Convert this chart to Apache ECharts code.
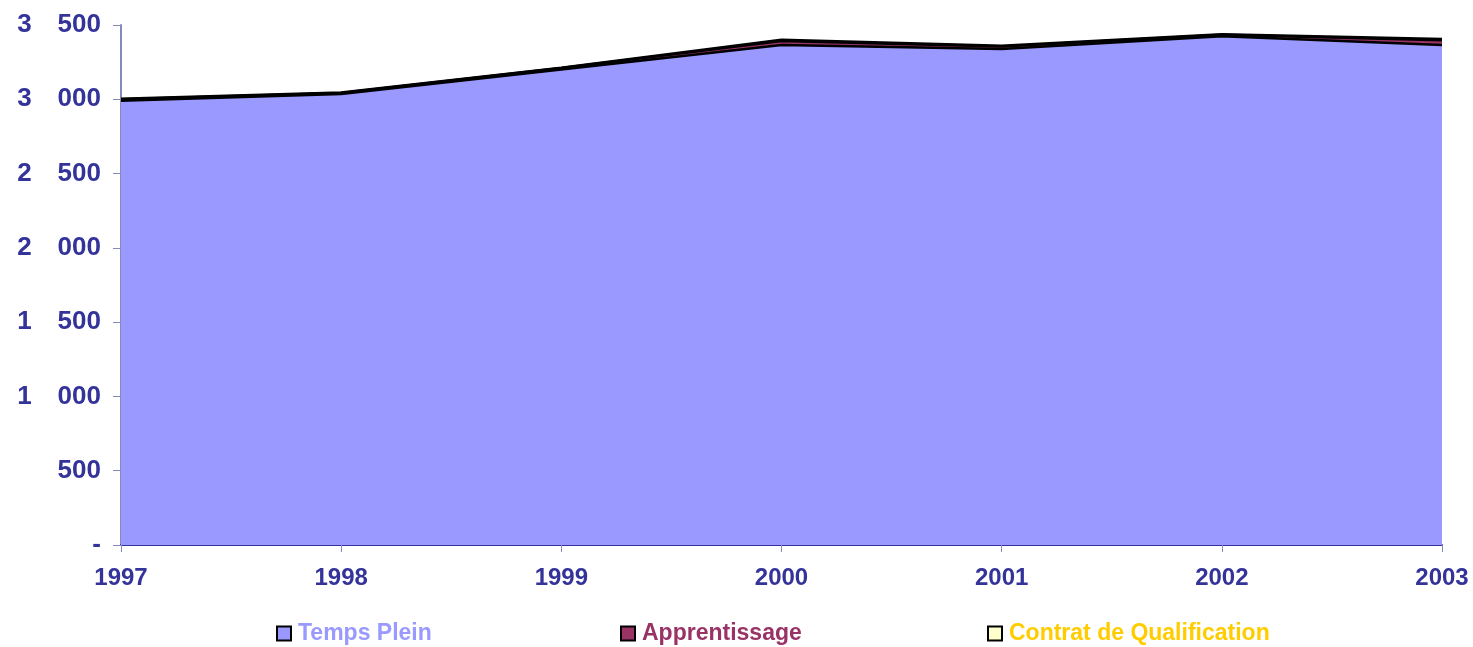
<!DOCTYPE html>
<html>
<head>
<meta charset="utf-8">
<script src="https://cdn.jsdelivr.net/npm/echarts@6/dist/echarts.min.js"></script>
<style>
  html, body { margin: 0; padding: 0; background: #fff; }
  #chart { width: 1473px; height: 647px; }
</style>
</head>
<body>
<div id="chart"></div>
<script>
// données
const years = ['1997', '1998', '1999', '2000', '2001', '2002', '2003']
const tempsPlein = [2990, 3035, 3200, 3365, 3338, 3425, 3365]
const apprentissage = [10, 8, 10, 28, 18, 10, 32]
const contratQualif = [3, 3, 3, 8, 5, 3, 8]

const navy = '#333399'
const fontFam = 'Liberation Sans, Arial, sans-serif'
// séparateur de milliers large, comme dans l'original
const fmt = v => v === 0 ? '-' : String(v).replace(/\B(?=(\d{3})+(?!\d))/g, '\u2003')

let myChart = echarts.init(document.getElementById('chart'))

function areaSerie(name, data, color) {
  return {
    name: name,
    type: 'line',
    stack: 'total',
    data: data,
    symbol: 'none',
    lineStyle: { color: '#000', width: 2.5 },
    areaStyle: { color: color, opacity: 1 },
    itemStyle: { color: color, borderColor: '#000', borderWidth: 2 },
    animation: false
  }
}

function legendAt(left, name, textColor) {
  return {
    left: left,
    top: 622,
    data: [{ name: name, icon: 'rect' }],
    itemWidth: 14,
    itemHeight: 14,
    padding: 0,
    textStyle: {
      color: textColor,
      fontSize: 23,
      fontWeight: 'bold',
      fontFamily: fontFam,
      padding: [0, 0, 0, 2]
    }
  }
}

myChart.setOption({
  backgroundColor: '#fff',
  grid: { left: 121, right: 31, top: 25, bottom: 102 },
  legend: [
    legendAt(276, 'Temps Plein', '#9999FF'),
    legendAt(620, 'Apprentissage', '#993366'),
    legendAt(987, 'Contrat de Qualification', '#FFCC00')
  ],
  xAxis: {
    type: 'category',
    data: years,
    boundaryGap: false,
    axisLine: { lineStyle: { color: navy, width: 2 } },
    axisTick: { show: true, length: 7, lineStyle: { color: '#8888bb' } },
    axisLabel: {
      color: navy,
      fontSize: 24,
      fontWeight: 'bold',
      margin: 21,
      fontFamily: fontFam
    },
    splitLine: { show: false }
  },
  yAxis: {
    type: 'value',
    min: 0,
    max: 3500,
    interval: 500,
    axisLine: { show: true, lineStyle: { color: '#8888bb', width: 2 } },
    axisTick: { show: true, length: 8, lineStyle: { color: '#8888bb' } },
    axisLabel: {
      color: navy,
      fontSize: 26,
      fontWeight: 'bold',
      margin: 20,
      formatter: fmt,
      fontFamily: fontFam
    },
    splitLine: { show: false }
  },
  series: [
    areaSerie('Temps Plein', tempsPlein, '#9999FF'),
    areaSerie('Apprentissage', apprentissage, '#993366'),
    areaSerie('Contrat de Qualification', contratQualif, '#FFFFCC')
  ]
})
</script>
</body>
</html>
